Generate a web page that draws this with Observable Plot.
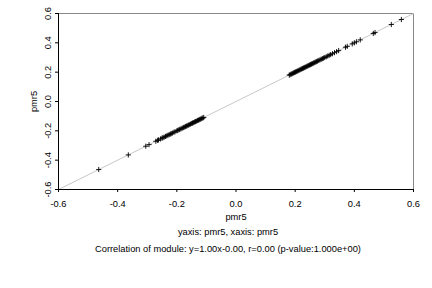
<!DOCTYPE html>
<html><head><meta charset="utf-8">
<script src="https://cdn.jsdelivr.net/npm/d3@7"></script>
<script src="https://cdn.jsdelivr.net/npm/@observablehq/plot@0.6"></script>
<style>
body{margin:0;background:#fff;}
#wrap{position:relative;width:432px;height:288px;font-family:"Liberation Sans",Arial,sans-serif;background:#fff;}
#wrap svg{position:absolute;left:0;top:0;}
.cap{position:absolute;left:0;width:456px;text-align:center;font-size:9.3px;line-height:12px;color:#000;white-space:nowrap;}
</style></head><body><div id="wrap"></div>
<script>
// module values (same variable on both axes)
const pmr5X = [-0.464, -0.364, -0.305, -0.294,
  -0.271, -0.265, -0.262, -0.255, -0.25, -0.247, -0.243, -0.238, -0.234, -0.23, -0.226, -0.222,
  -0.219, -0.215, -0.21, -0.206, -0.2, -0.197, -0.193, -0.19, -0.186, -0.182, -0.178, -0.175,
  -0.171, -0.168, -0.165, -0.161, -0.158, -0.154, -0.15, -0.147, -0.144, -0.14, -0.137, -0.134,
  -0.13, -0.127, -0.124, -0.121, -0.118, -0.115, -0.112, -0.109,
  0.18, 0.183, 0.186, 0.189, 0.192, 0.195, 0.198, 0.201, 0.204, 0.207, 0.21, 0.213, 0.216, 0.219,
  0.222, 0.225, 0.228, 0.231, 0.234, 0.237, 0.24, 0.243, 0.246, 0.249, 0.252, 0.255, 0.258, 0.261,
  0.264, 0.267, 0.27, 0.273, 0.276, 0.28, 0.284, 0.288, 0.292, 0.296, 0.3, 0.305, 0.31, 0.315,
  0.32, 0.326, 0.333, 0.34, 0.347, 0.37, 0.376, 0.393, 0.4, 0.407, 0.42, 0.464, 0.47, 0.525, 0.559];
const pmr5Y = pmr5X.slice();
const xDomain = [-0.6, 0.6];
const yDomain = [-0.6, 0.6];
const tickValues = [-0.6, -0.4, -0.2, 0, 0.2, 0.4, 0.6];
const fitSlope = 1.00;
const fitIntercept = -0.00;
const xLabel = "pmr5";
const yLabel = "pmr5";
const caption1 = "yaxis: pmr5, xaxis: pmr5";
const caption2 = "Correlation of module: y=1.00x-0.00, r=0.00 (p-value:1.000e+00)";

const points = pmr5X.map((x, i) => ({x, y: pmr5Y[i]}));
const fit = xDomain.map(x => ({x, y: fitSlope * x + fitIntercept}));
const fmt = d => d.toFixed(1);

const plot = Plot.plot({
  width: 432, height: 226,
  marginTop: 13, marginLeft: 58, marginRight: 19, marginBottom: 37,
  style: {fontSize: "9.3px", fontFamily: "Liberation Sans, Arial, sans-serif", background: "transparent", color: "#000"},
  x: {domain: xDomain},
  y: {domain: yDomain},
  marks: [
    Plot.frame({stroke: "#888"}),
    Plot.line(fit, {x: "x", y: "y", stroke: "#c8c8c8", strokeWidth: 1}),
    Plot.ruleX([xDomain[0]], {stroke: "#000"}),
    Plot.ruleY([yDomain[0]], {stroke: "#000"}),
    Plot.dot(points, {x: "x", y: "y", symbol: "plus", r: 1.8, stroke: "#000", strokeWidth: 0.9}),
    Plot.axisX({ticks: tickValues, tickFormat: fmt, tickSize: 3, tickPadding: 8,
      label: xLabel, labelAnchor: "center", labelArrow: "none", labelOffset: 30}),
    Plot.axisY({ticks: tickValues, tickFormat: fmt, tickSize: 3, tickPadding: 5, tickRotate: -90,
      textAnchor: "middle", lineAnchor: "bottom",
      label: yLabel, labelAnchor: "center", labelArrow: "none", labelOffset: 28})
  ]
});
const wrap = document.getElementById("wrap");
wrap.appendChild(plot);
const c1 = document.createElement("div");
c1.className = "cap"; c1.style.top = "226px"; c1.textContent = caption1;
const c2 = document.createElement("div");
c2.className = "cap"; c2.style.top = "243px"; c2.textContent = caption2;
wrap.appendChild(c1); wrap.appendChild(c2);
</script></body></html>
